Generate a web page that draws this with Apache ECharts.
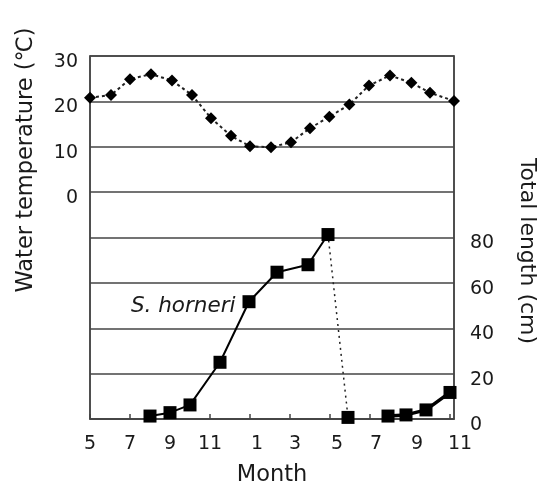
<!DOCTYPE html>
<html>
<head>
<meta charset="utf-8">
<script src="https://cdn.jsdelivr.net/npm/echarts@6/dist/echarts.min.js"></script>
<style>
html,body{margin:0;padding:0;background:#fff;}
#chart{width:542px;height:484px;}
</style>
</head>
<body>
<div id="chart"></div>
<script>
// Month tick labels (every 2 months, starting May)
const tickLabels = ['5','7','9','11','1','3','5','7','9','11'];
// Water temperature (°C); x = months since start of May
const tempMonth = [0, 1.05, 2.0, 3.05, 4.1, 5.1, 6.05, 7.05, 8.0, 9.05, 10.05, 11.0, 11.97, 12.97, 13.95, 15.0, 16.07, 17.0, 18.2];
const tempValue = [20.8, 21.4, 24.9, 26.0, 24.6, 21.4, 16.3, 12.4, 10.1, 9.9, 11.0, 14.1, 16.6, 19.3, 23.5, 25.7, 24.1, 21.9, 20.1];
// Total length (cm) of S. horneri
const lengthMonth = [3.0, 4.0, 5.0, 6.5, 7.95, 9.35, 10.9, 11.9, 12.9, 14.9, 15.8, 16.8, 18.0];
const lengthValue = [1.3, 2.8, 6.2, 25.0, 51.7, 64.7, 68.0, 81.3, 0.7, 1.3, 1.8, 4.0, 11.7];
const speciesLabel = 'S. horneri';
const tempTicks = [0, 10, 20, 30];
const lengthTicks = [0, 20, 40, 60, 80];

const FONT = 'DejaVu Sans';
const TXT = '#1a1a1a';
const GRID = '#444';

const pts = (xs, ys, a, b) => xs.slice(a, b).map((x, i) => [x, ys[a + i]]);

const growth1 = pts(lengthMonth, lengthValue, 0, 8).map((p, i) => i === 4 ? {
  value: p,
  label: {show: true, formatter: speciesLabel, position: 'left', distance: 7, offset: [0, 5],
          fontFamily: FONT, fontStyle: 'italic', fontSize: 21.5, color: TXT}
} : p);
const drop = pts(lengthMonth, lengthValue, 7, 9);
const growth2 = pts(lengthMonth, lengthValue, 8, 9);
const growth3 = pts(lengthMonth, lengthValue, 9, 13);

const labelOffsets = [0, 0, 0, 0, 14, 10, 14, 12, 14, 20];
const rich = {};
labelOffsets.forEach((o, i) => { rich['p' + i] = {padding: [0, 0, 0, o], fontFamily: FONT, fontSize: 19, color: TXT}; });
const yRich = {d: {padding: [12, 0, 0, 0], fontFamily: FONT, fontSize: 19, color: TXT}};

const chart = echarts.init(document.getElementById('chart'));
chart.setOption({
  animation: false,
  backgroundColor: '#fff',
  grid: {left: 90, right: 88, top: 56, bottom: 65, containLabel: false, outerBoundsMode: 'none',
         show: true, borderColor: GRID, borderWidth: 1.5},
  xAxis: {
    type: 'value', min: 0, max: 18.2, interval: 2,
    name: 'Month', nameLocation: 'middle', nameGap: 45,
    nameTextStyle: {fontFamily: FONT, fontSize: 22.5, color: TXT},
    axisLine: {show: true, onZero: false, lineStyle: {color: GRID, width: 1.5}},
    axisTick: {show: true, inside: true, length: 5, lineStyle: {color: GRID, width: 1.5}},
    splitLine: {show: false},
    axisLabel: {
      margin: 16, showMaxLabel: false,
      formatter: v => {
        const k = Math.round(v / 2);
        if (Math.abs(v - k * 2) > 1e-6 || k >= tickLabels.length) return '';
        return '{p' + k + '|' + tickLabels[k] + '}';
      },
      rich: rich
    }
  },
  yAxis: [{
    type: 'value', min: -50, max: 30, interval: 10, position: 'left',
    axisLine: {show: true, onZero: false, lineStyle: {color: GRID, width: 1.5}},
    axisTick: {show: false},
    splitLine: {show: true, lineStyle: {color: GRID, width: 1.5}},
    axisLabel: {
      margin: 12, rich: yRich,
      formatter: v => tempTicks.indexOf(v) >= 0 ? '{d|' + v + '}' : ''
    }
  }, {
    type: 'value', min: 0, max: 160, interval: 20, position: 'right',
    axisLine: {show: true, onZero: false, lineStyle: {color: GRID, width: 1.5}},
    axisTick: {show: false},
    splitLine: {show: false},
    axisLabel: {
      margin: 16, rich: yRich,
      formatter: v => lengthTicks.indexOf(v) >= 0 ? '{d|' + v + '}' : ''
    }
  }],
  graphic: [
    {type: 'text', x: 26, y: 160, rotation: Math.PI / 2,
     style: {text: 'Water temperature (℃)', textAlign: 'center', textVerticalAlign: 'middle',
             font: '22.5px "DejaVu Sans"', fill: TXT}},
    {type: 'text', x: 527, y: 251, rotation: -Math.PI / 2,
     style: {text: 'Total length (cm)', textAlign: 'center', textVerticalAlign: 'middle',
             font: '22px "DejaVu Sans"', fill: TXT}}
  ],
  series: [
    {type: 'line', yAxisIndex: 0, data: pts(tempMonth, tempValue, 0, tempMonth.length),
     symbol: 'diamond', symbolSize: 12, itemStyle: {color: '#000'},
     lineStyle: {color: '#222', width: 2, type: [3, 3]}, z: 3},
    {type: 'line', yAxisIndex: 1, data: drop, symbol: 'none',
     lineStyle: {color: '#222', width: 1.5, type: [2, 4]}, z: 2},
    {type: 'line', yAxisIndex: 1, data: growth1, symbol: 'rect', symbolSize: 13,
     itemStyle: {color: '#000'}, lineStyle: {color: '#000', width: 2}, z: 4},
    {type: 'line', yAxisIndex: 1, data: growth2, symbol: 'rect', symbolSize: 13,
     itemStyle: {color: '#000'}, z: 4},
    {type: 'line', yAxisIndex: 1, data: growth3, symbol: 'rect', symbolSize: 13,
     itemStyle: {color: '#000'}, lineStyle: {color: '#000', width: 3.5}, z: 4}
  ]
});
</script>
</body>
</html>
